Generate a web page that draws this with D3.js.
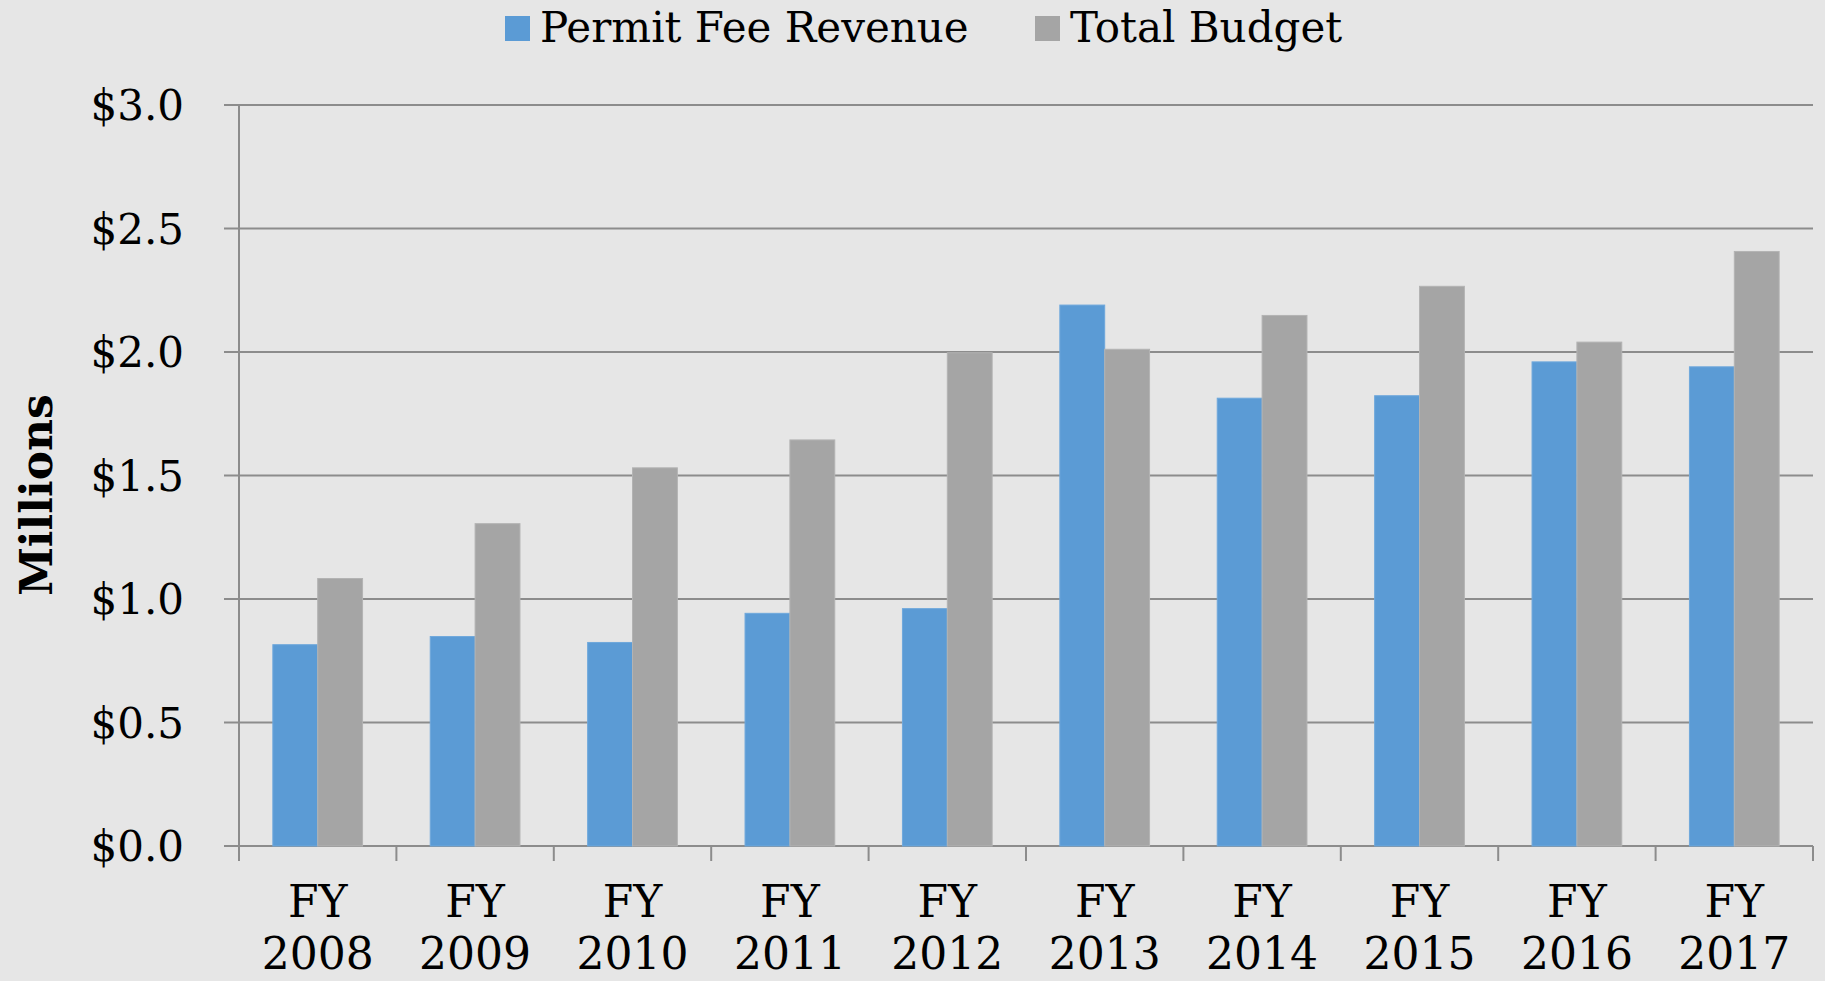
<!DOCTYPE html>
<html>
<head>
<meta charset="utf-8">
<script src="https://cdn.jsdelivr.net/npm/d3@7"></script>
<style>
  body { margin: 0; background: #e6e6e6; }
  text { font-family: "DejaVu Serif", serif; fill: #000; }
</style>
</head>
<body>
<div id="chart"></div>
<script>
// data (millions of dollars)
let years = ["2008", "2009", "2010", "2011", "2012", "2013", "2014", "2015", "2016", "2017"];
let seriesNames = ["Permit Fee Revenue", "Total Budget"];
let permitFee = [0.815, 0.848, 0.824, 0.942, 0.961, 2.19, 1.813, 1.823, 1.96, 1.94];
let totalBudget = [1.083, 1.305, 1.531, 1.644, 1.997, 2.011, 2.148, 2.266, 2.04, 2.407];
let yTicks = [0, 0.5, 1.0, 1.5, 2.0, 2.5, 3.0];
let colors = ["#5b9bd5", "#a5a5a5"];

let svgWidth = 1825;
let svgHeight = 981;

let margin = { top: 105, right: 12, bottom: 135, left: 239 };
let width = svgWidth - margin.left - margin.right;
let height = svgHeight - margin.top - margin.bottom;

let svg = d3.select("#chart").append("svg")
  .attr("width", svgWidth)
  .attr("height", svgHeight);

svg.append("rect").attr("width", svgWidth).attr("height", svgHeight).attr("fill", "#e6e6e6");

let chartGroup = svg.append("g")
  .attr("transform", `translate(${margin.left}, ${margin.top})`);

let data = years.map((y, i) => ({ year: y, values: [permitFee[i], totalBudget[i]] }));

let x0 = d3.scaleBand()
  .domain(years)
  .range([0, width])
  .paddingInner(0.43)
  .paddingOuter(0.215);

let x1 = d3.scaleBand()
  .domain([0, 1])
  .range([0, x0.bandwidth()]);

let yScale = d3.scaleLinear().domain([0, 3]).range([height, 0]);

// gridlines + left ticks
chartGroup.selectAll(".grid")
  .data(yTicks)
  .enter()
  .append("line")
  .attr("x1", -15)
  .attr("x2", width)
  .attr("y1", d => yScale(d))
  .attr("y2", d => yScale(d))
  .attr("stroke", "#8c8c8c")
  .attr("stroke-width", 2);

// y tick labels
chartGroup.selectAll(".ylab")
  .data(yTicks)
  .enter()
  .append("text")
  .attr("x", -55)
  .attr("y", d => yScale(d))
  .attr("dy", "0.36em")
  .attr("text-anchor", "end")
  .attr("font-size", "42px")
  .text(d => "$" + d.toFixed(1));

// bars
let groups = chartGroup.selectAll(".yr")
  .data(data)
  .enter()
  .append("g")
  .attr("transform", d => `translate(${x0(d.year)},0)`);

groups.selectAll("rect")
  .data(d => d.values)
  .enter()
  .append("rect")
  .attr("x", (d, i) => x1(i))
  .attr("y", d => yScale(d))
  .attr("width", x1.bandwidth())
  .attr("height", d => height - yScale(d))
  .attr("fill", (d, i) => colors[i])
  .attr("stroke", (d, i) => i === 0 ? "#6fa8dc" : "#b3b3b3")
  .attr("stroke-width", 1);

// y axis line
chartGroup.append("line")
  .attr("x1", 0).attr("x2", 0)
  .attr("y1", 0).attr("y2", height + 15)
  .attr("stroke", "#8c8c8c")
  .attr("stroke-width", 2);

// x category ticks
let step = x0.step();
chartGroup.selectAll(".xtick")
  .data(d3.range(1, years.length + 1))
  .enter()
  .append("line")
  .attr("x1", d => d * step)
  .attr("x2", d => d * step)
  .attr("y1", height)
  .attr("y2", height + 15)
  .attr("stroke", "#8c8c8c")
  .attr("stroke-width", 2);

// x labels
let xl = chartGroup.selectAll(".xlab")
  .data(years)
  .enter()
  .append("text")
  .attr("text-anchor", "middle")
  .attr("font-size", "44px")
  .attr("transform", d => `translate(${x0(d) + x0.bandwidth() / 2},${height})`);
xl.append("tspan").attr("x", 0).attr("y", 71).text("FY");
xl.append("tspan").attr("x", 0).attr("y", 123).text(d => d);

// y axis title
svg.append("text")
  .attr("transform", `translate(52, 495) rotate(-90)`)
  .attr("text-anchor", "middle")
  .attr("font-size", "44px")
  .attr("font-weight", "bold")
  .text("Millions");

// legend
let legendX = [505, 1035];
let legend = svg.selectAll(".legend")
  .data(seriesNames)
  .enter()
  .append("g")
  .attr("transform", (d, i) => `translate(${legendX[i]}, 16)`);
legend.append("rect")
  .attr("width", 25).attr("height", 25)
  .attr("fill", (d, i) => colors[i]);
legend.append("text")
  .attr("x", 35)
  .attr("y", 26)
  .attr("font-size", "42px")
  .text(d => d);
</script>
</body>
</html>
